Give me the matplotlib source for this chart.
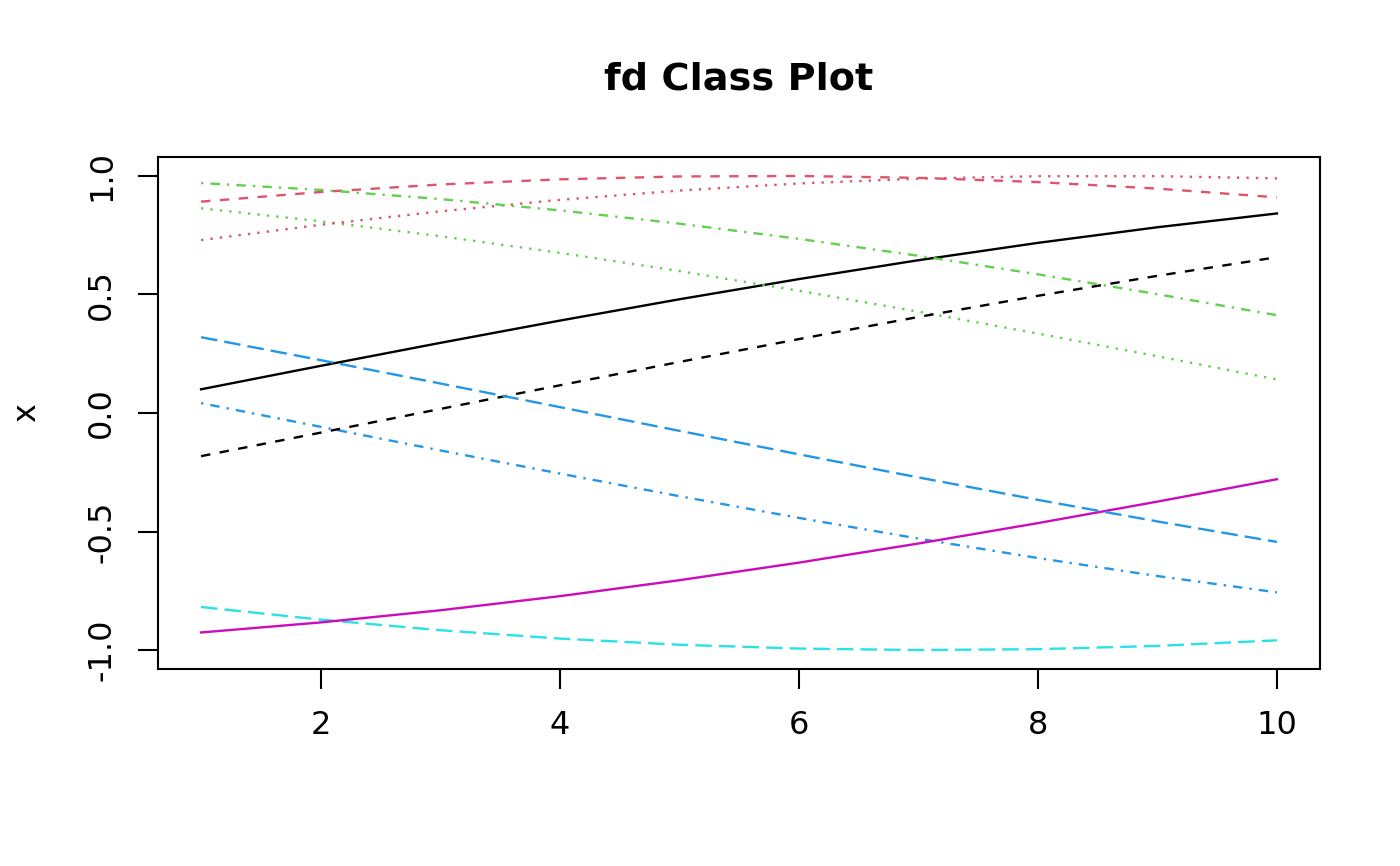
#!/usr/bin/env python3

import matplotlib
matplotlib.use("Agg")
import matplotlib.pyplot as plt

x = [1, 2, 3, 4, 5, 6, 7, 8, 9, 10]

# one curve per column
s1 = [0.0998, 0.1987, 0.2955, 0.3894, 0.4794, 0.5646, 0.6442, 0.7174, 0.7833, 0.8415]
s2 = [0.8912, 0.9320, 0.9636, 0.9854, 0.9975, 0.9996, 0.9917, 0.9738, 0.9463, 0.9093]
s3 = [0.8632, 0.8085, 0.7457, 0.6755, 0.5985, 0.5155, 0.4274, 0.3350, 0.2392, 0.1411]
s4 = [0.0416, -0.0584, -0.1577, -0.2555, -0.3508, -0.4425, -0.5298, -0.6119, -0.6878, -0.7568]
s5 = [-0.8183, -0.8716, -0.9162, -0.9516, -0.9775, -0.9937, -0.9999, -0.9962, -0.9825, -0.9589]
s6 = [-0.9258, -0.8835, -0.8323, -0.7728, -0.7055, -0.6313, -0.5507, -0.4646, -0.3739, -0.2794]
s7 = [-0.1822, -0.0831, 0.0168, 0.1165, 0.2151, 0.3115, 0.4048, 0.4941, 0.5784, 0.6570]
s8 = [0.7290, 0.7937, 0.8504, 0.8987, 0.9380, 0.9679, 0.9882, 0.9985, 0.9989, 0.9894]
s9 = [0.9699, 0.9407, 0.9022, 0.8546, 0.7985, 0.7344, 0.6630, 0.5849, 0.5010, 0.4121]
s10 = [0.3195, 0.2229, 0.1245, 0.0248, -0.0752, -0.1743, -0.2718, -0.3665, -0.4575, -0.5440]
series = [s1, s2, s3, s4, s5, s6, s7, s8, s9, s10]

xticks = [2, 4, 6, 8, 10]
yticks = [-1.0, -0.5, 0.0, 0.5, 1.0]
ytick_labels = ["-1.0", "-0.5", "0.0", "0.5", "1.0"]

# R palette and lty 1:5
cols = ["#000000", "#DF536B", "#61D04F", "#2297E6", "#28E2E5", "#CD0BBC"]
ltys = [None, (4, 4), (1, 3), (1, 3, 4, 3), (7, 3)]

plt.rcParams['font.family'] = ['DejaVu Sans']

fig = plt.figure(figsize=(14, 8.66), dpi=100)
ax = fig.add_axes([158/1400, 1-669/866, (1320-158)/1400, (669-157)/866])

for i, ys in enumerate(series):
    line, = ax.plot(x, ys, color=cols[i % 6], lw=1.7)
    d = ltys[i % 5]
    if d is not None:
        line.set_dashes(d)

lo = min(min(s) for s in series)
hi = max(max(s) for s in series)
ax.set_xlim(1 - 0.04*9, 10 + 0.04*9)
ax.set_ylim(lo - 0.04*(hi-lo), hi + 0.04*(hi-lo))

ax.set_xticks(xticks)
ax.set_yticks(yticks)
ax.set_yticklabels(ytick_labels, rotation=90, va='center')
ax.tick_params(axis='both', direction='out', length=14.5, width=1.5,
               labelsize=23, pad=15)
for sp in ax.spines.values():
    sp.set_linewidth(1.5)

fig.text(27/1400, 1-413/866, "x", rotation=90, ha='center', va='center', fontsize=23)
fig.text(739/1400, 1-80/866, "fd Class Plot", ha='center', va='center',
         fontsize=27.5, fontweight='bold')

fig.savefig("out.png", dpi=100)
